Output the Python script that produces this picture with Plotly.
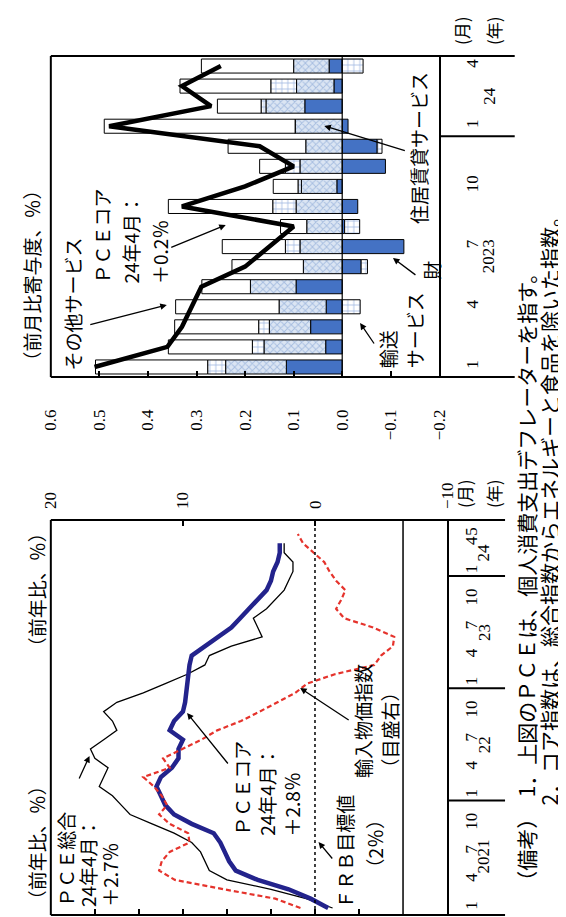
import plotly.graph_objects as go

W, H = 566, 917
FONT_NUM = "Liberation Serif, Noto Sans CJK JP, serif"
FONT_JP = "Noto Sans CJK JP, sans-serif"


def PX(x):
    return x / W


def PY(y):
    return 1 - y / H


# ---------------- Left chart: y/y %, monthly from Jan 2021 ----------------
pce_total = [1.6, 2.2, 3.0, 4.0, 4.4, 4.5, 4.6, 4.8, 5.2, 5.7, 6.2, 6.4,
             6.6, 6.9, 6.8, 6.7, 7.0, 7.1, 6.8, 6.5, 6.6, 6.8, 6.5, 5.9,
             5.4, 4.9, 4.5, 4.4, 3.9, 3.2, 3.3, 3.4, 3.1, 2.9, 2.7, 2.6,
             2.5, 2.5, 2.7, 2.7]
pce_core = [1.7, 2.1, 2.6, 3.3, 3.8, 3.95, 4.05, 4.15, 4.3, 4.8, 5.2, 5.4,
            5.5, 5.6, 5.5, 5.25, 5.1, 5.1, 5.0, 5.3, 5.2, 5.0, 4.95, 4.93,
            4.9, 4.87, 4.85, 4.8, 4.5, 4.2, 3.9, 3.7, 3.5, 3.3, 3.1, 3.0,
            2.95, 2.85, 2.8, 2.8]
import_prices = [1.1, 3.0, 6.9, 10.6, 11.8, 11.6, 11.0, 9.5, 9.6, 11.0, 11.8, 11.2,
                 11.6, 12.2, 13.0, 11.0, 11.5, 10.0, 8.6, 7.4, 5.6, 4.2, 2.9, 1.5,
                 0.6, -1.5, -4.5, -5.0, -5.9, -6.0, -4.4, -2.2, -1.6, -2.0, -2.3, -1.6,
                 -1.1, -0.7, 0.1, 0.9, 1.3]
a_years = ["2021", "22", "23", "24"]
a_left_ticks = [1, 2, 3, 4, 5, 6, 7]
a_right_ticks = [20, 10, 0, -10]
a_right_ticktext = ["20", "10", "0", "−10"]
frb_target = 2

# ---------------- Right chart: m/m contributions, Jan 2023 - Apr 2024 ----------------
goods = [0.115, 0.034, 0.065, 0.033, 0.095, -0.039, -0.127, -0.005,
         -0.032, 0.011, -0.089, -0.072, -0.012, 0.077, 0.017, 0.027]
housing = [0.125, 0.127, 0.085, 0.097, 0.094, 0.080, 0.087, 0.073,
           0.095, 0.073, 0.087, 0.075, 0.097, 0.080, 0.077, 0.073]
transport = [0.037, 0.024, 0.022, -0.037, 0.0, -0.013, 0.030, -0.031,
             0.048, 0.007, 0.030, -0.010, 0.0, 0.010, 0.053, -0.043]
other_services = [0.231, 0.173, 0.173, 0.213, 0.100, 0.147, 0.130, 0.054,
                  0.215, 0.051, 0.053, 0.160, 0.393, 0.090, 0.187, 0.190]
core_mom = [0.51, 0.36, 0.33, 0.31, 0.29, 0.20, 0.15, 0.10,
            0.33, 0.20, 0.10, 0.17, 0.48, 0.27, 0.33, 0.25]
b_years = ["2023", "24"]
b_value_ticks = [0.6, 0.5, 0.4, 0.3, 0.2, 0.1, 0.0, -0.1, -0.2]
b_value_text = ["0.6", "0.5", "0.4", "0.3", "0.2", "0.1", "0.0", "−0.1", "−0.2"]

# ---------------- derived month positions ----------------
a_n = len(import_prices)
a_idx = list(range(a_n))
a_month = [(i % 12) + 1 for i in a_idx]
a_tickvals = [i for i in a_idx if a_month[i] in (1, 4, 7, 10) or i == a_n - 1]
a_ticktext = [str(a_month[i]) for i in a_tickvals]
a_year_start = [i for i in a_idx if a_month[i] == 1]
a_year_center = [(s + min(s + 11, a_n - 1)) / 2 for s in a_year_start]

b_n = len(core_mom)
b_idx = list(range(b_n))
b_month = [(i % 12) + 1 for i in b_idx]
b_tickvals = [i for i in b_idx if b_month[i] in (1, 4, 7, 10)]
b_ticktext = [str(b_month[i]) for i in b_tickvals]
b_year_start = [i for i in b_idx if b_month[i] == 1]
b_year_center = [(s + min(s + 11, b_n - 1)) / 2 for s in b_year_start]

fig = go.Figure()

# left chart traces
fig.add_trace(go.Scatter(x=pce_total, y=a_idx[:len(pce_total)], xaxis="x", yaxis="y",
                         mode="lines", line=dict(color="black", width=1.3)))
fig.add_trace(go.Scatter(x=pce_core, y=a_idx[:len(pce_core)], xaxis="x", yaxis="y",
                         mode="lines", line=dict(color="#23238c", width=4.5)))
fig.add_trace(go.Scatter(x=import_prices, y=a_idx, xaxis="x2", yaxis="y",
                         mode="lines", line=dict(color="#e5332c", width=2.2, dash="5px,3px")))

# right chart bars
bar_line = dict(color="black", width=1)
fig.add_trace(go.Bar(x=goods, y=b_idx, orientation="h", xaxis="x3", yaxis="y3", width=0.7,
                     marker=dict(color="#4472c4", line=bar_line)))
fig.add_trace(go.Bar(x=housing, y=b_idx, orientation="h", xaxis="x3", yaxis="y3", width=0.7,
                     marker=dict(color="#dbe5f3", line=bar_line,
                                 pattern=dict(shape="x", bgcolor="#dbe5f3", fgcolor="#7396cc",
                                              size=5, solidity=0.35))))
fig.add_trace(go.Bar(x=transport, y=b_idx, orientation="h", xaxis="x3", yaxis="y3", width=0.7,
                     marker=dict(color="white", line=bar_line,
                                 pattern=dict(shape="+", bgcolor="white", fgcolor="#4472c4",
                                              size=6, solidity=0.25))))
fig.add_trace(go.Bar(x=other_services, y=b_idx, orientation="h", xaxis="x3", yaxis="y3", width=0.7,
                     marker=dict(color="white", line=bar_line)))
fig.add_trace(go.Scatter(x=core_mom, y=b_idx, xaxis="x3", yaxis="y3", mode="lines",
                         line=dict(color="black", width=4.5)))

num_font = dict(family=FONT_NUM, size=17, color="black")

shapes = []
# frames, left chart
for yy in (0, 1):
    shapes.append(dict(type="line", xref="paper", yref="y domain", x0=PX(35), x1=PX(505),
                       y0=yy, y1=yy, line=dict(color="black", width=2)))
shapes.append(dict(type="line", xref="x domain", yref="y domain", x0=0, x1=0, y0=0, y1=1,
                   line=dict(color="black", width=2)))
shapes.append(dict(type="line", xref="x", yref="y domain", x0=0, x1=0, y0=0, y1=1,
                   line=dict(color="black", width=1.5)))
shapes.append(dict(type="line", xref="x", yref="y domain", x0=frb_target, x1=frb_target, y0=0, y1=1,
                   line=dict(color="black", width=1.5, dash="dot")))
for s in a_year_start[1:]:
    shapes.append(dict(type="line", xref="paper", yref="y", x0=PX(445), x1=PX(505),
                       y0=s - 0.5, y1=s - 0.5, line=dict(color="black", width=2)))
# frames, right chart
for yy in (0, 1):
    shapes.append(dict(type="line", xref="paper", yref="y3 domain", x0=PX(35), x1=PX(515),
                       y0=yy, y1=yy, line=dict(color="black", width=2)))
shapes.append(dict(type="line", xref="x3 domain", yref="y3 domain", x0=0, x1=0, y0=0, y1=1,
                   line=dict(color="black", width=2)))
shapes.append(dict(type="line", xref="x3", yref="y3 domain", x0=0, x1=0, y0=0, y1=1,
                   line=dict(color="black", width=1.2)))
for s in b_year_start[1:]:
    shapes.append(dict(type="line", xref="paper", yref="y3", x0=PX(437), x1=PX(515),
                       y0=s - 0.5, y1=s - 0.5, line=dict(color="black", width=2)))

ann = []


def text(t, x, y, size=19, family=FONT_JP, xanchor="center", yanchor="middle"):
    ann.append(dict(text=t, x=PX(x), y=PY(y), xref="paper", yref="paper", showarrow=False,
                    textangle=-90, xanchor=xanchor, yanchor=yanchor,
                    font=dict(family=family, size=size, color="black")))


def block(lines, xs, bottom, size=19):
    for t, x in zip(lines, xs):
        text(t, x, bottom, size=size, yanchor="bottom")


def arrow(tail, tip):
    ann.append(dict(text="", x=PX(tip[0]), y=PY(tip[1]), xref="paper", yref="paper",
                    ax=tail[0] - tip[0], ay=tail[1] - tip[1], showarrow=True,
                    arrowhead=2, arrowsize=1, arrowwidth=1.3, arrowcolor="black"))


# left chart texts
text("（前年比、％）", 20, 835)
text("（前年比、％）", 20, 582)
block(["ＰＣＥ総合", "24年4月：", "＋2.7％"], [50, 73, 95], 901)
arrow((64, 772), (75, 748))
block(["ＰＣＥコア", "24年4月：", "＋2.8％"], [232, 258, 284], 830)
arrow((218, 757), (176, 705))
block(["ＦＲＢ目標値"], [338], 903)
block(["（2％）"], [369], 872)
arrow((327, 852), (312, 834))
block(["輸入物価指数", "（目盛右）"], [357, 385], 772)
arrow((343, 713), (293, 680))
text("(月)", 463, 502, size=17, yanchor="bottom")
text("(年)", 493, 502, size=17, yanchor="bottom")
for lab, c in zip(a_years, a_year_center):
    ann.append(dict(text=lab, x=PX(495), y=c, xref="paper", yref="y", showarrow=False,
                    textangle=-90, font=dict(family=FONT_NUM, size=17, color="black")))

# right chart texts
text("（前月比寄与度、％）", 15, 267)
text("その他サービス", 57, 365, yanchor="bottom")
arrow((77, 317), (155, 297))
block(["ＰＣＥコア", "24年4月：", "＋0.2％"], [87, 117, 147], 278)
arrow((160, 240), (216, 217))
text("住居賃貸サービス", 415, 218, yanchor="bottom")
arrow((400, 143), (318, 118))
block(["輸送", "サービス"], [383, 411], 362)
arrow((370, 337), (355, 315))
text("財", 428, 262)
arrow((413, 268), (389, 250))
text("(月)", 460, 39, size=17, yanchor="bottom")
text("(年)", 493, 39, size=17, yanchor="bottom")
for lab, c in zip(b_years, b_year_center):
    ann.append(dict(text=lab, x=PX(500), y=c, xref="paper", yref="y3", showarrow=False,
                    textangle=-90, font=dict(family=FONT_NUM, size=17, color="black")))

# notes
text("（備考）　1．上図のＰＣＥは、個人消費支出デフレーターを指す。", 526, 886, size=21, yanchor="bottom")
text("2．コア指数は、総合指数からエネルギーと食品を除いた指数。", 550, 800, size=21, yanchor="bottom")

fig.update_layout(
    width=W, height=H, margin=dict(l=0, r=0, t=0, b=0),
    paper_bgcolor="white", plot_bgcolor="white", showlegend=False,
    barmode="relative", bargap=0.3,
    xaxis=dict(domain=[PX(35), PX(445)], range=[8, -1], anchor="y", side="bottom",
               ticks="inside", tickvals=a_left_ticks, ticklen=6, tickwidth=1.5, tickcolor="black",
               showticklabels=False, showgrid=False, zeroline=False, showline=False),
    xaxis2=dict(overlaying="x", side="top", anchor="y", range=[20, -10],
                tickvals=a_right_ticks, ticktext=a_right_ticktext, tickangle=-90,
                ticks="inside", ticklen=6, tickwidth=1.5, tickcolor="black", tickfont=num_font,
                showgrid=False, zeroline=False, showline=False, ticklabelstandoff=10),
    yaxis=dict(domain=[PY(907), PY(512)], range=[-0.75, 41.5], anchor="x", side="right",
               showline=True, linewidth=2, linecolor="black", ticks="",
               tickvals=a_tickvals, ticktext=a_ticktext, tickangle=-90, tickfont=num_font,
               showgrid=False, zeroline=False, ticklabelstandoff=8),
    xaxis3=dict(domain=[PX(35), PX(437)], range=[0.6, -0.2], anchor="y3", side="bottom",
                ticks="inside", ticklen=6, tickwidth=1.5, tickcolor="black",
                tickvals=b_value_ticks, ticktext=b_value_text, tickangle=-90, tickfont=num_font,
                showgrid=False, zeroline=False, showline=False, ticklabelstandoff=28),
    yaxis3=dict(domain=[PY(369), PY(48)], range=[-0.5, 15.5], anchor="x3", side="right",
                showline=True, linewidth=2, linecolor="black", ticks="",
                tickvals=b_tickvals, ticktext=b_ticktext, tickangle=-90, tickfont=num_font,
                showgrid=False, zeroline=False, ticklabelstandoff=16),
    shapes=shapes, annotations=ann,
)

fig.write_html("out.html")
